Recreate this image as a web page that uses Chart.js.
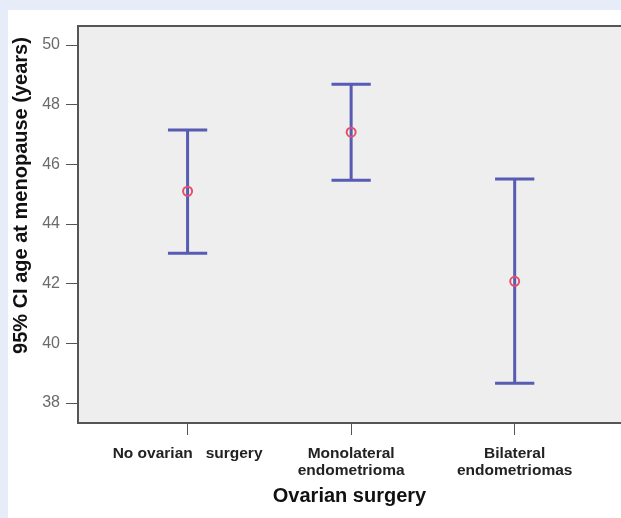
<!DOCTYPE html>
<html>
<head>
<meta charset="utf-8">
<script src="https://cdn.jsdelivr.net/npm/chart.js@4/dist/chart.umd.min.js"></script>
<style>
body { margin: 0; background: #e7edf8; overflow: hidden; }
#ciChart { position: absolute; left: 8px; top: 10px; background: #ffffff; }
</style>
</head>
<body>
<canvas id="ciChart" width="613" height="508"></canvas>
<script>
// groups on the x axis
var groups = [['No ovarian   surgery'], ['Monolateral', 'endometrioma'], ['Bilateral', 'endometriomas']];
var groupPos = [1, 2, 3];
// mean and 95% CI of age at menopause
var means = [45.1, 47.08, 42.08];
var lowerCI = [43.02, 45.47, 38.66];
var upperCI = [47.15, 48.69, 45.51];
var yTicks = [38, 40, 42, 44, 46, 48, 50];

var fontName = 'Liberation Sans, Arial, sans-serif';
var barColor = '#575bb2';
var capHalf = 0.12;

var datasets = [{
  type: 'scatter',
  label: 'mean',
  data: groupPos.map(function (x, i) { return { x: x, y: means[i] }; }),
  pointRadius: 4.5,
  pointBorderWidth: 2,
  borderColor: '#e2506c',
  backgroundColor: 'rgba(0,0,0,0)',
  order: 0
}];

for (var i = 0; i < groupPos.length; i++) {
  var x = groupPos[i];
  datasets.push({
    type: 'line',
    label: 'ci' + i,
    data: [
      { x: x - capHalf, y: upperCI[i] }, { x: x + capHalf, y: upperCI[i] },
      { x: x, y: null },
      { x: x, y: upperCI[i] }, { x: x, y: lowerCI[i] },
      { x: x, y: null },
      { x: x - capHalf, y: lowerCI[i] }, { x: x + capHalf, y: lowerCI[i] }
    ],
    borderColor: barColor,
    borderWidth: 3,
    pointRadius: 0,
    fill: false,
    spanGaps: false,
    order: 1
  });
}

// grey plot panel with a frame
var plotFrame = {
  id: 'plotFrame',
  beforeDraw: function (chart) {
    var a = chart.chartArea;
    var c = chart.ctx;
    c.save();
    c.fillStyle = '#eeeeee';
    c.fillRect(a.left, a.top, a.right - a.left + 4, a.bottom - a.top);
    c.strokeStyle = '#555555';
    c.lineWidth = 2;
    c.strokeRect(a.left, a.top, a.right - a.left + 4, a.bottom - a.top);
    c.restore();
  }
};

var ctx = document.getElementById('ciChart').getContext('2d');
var ciChart = new Chart(ctx, {
  type: 'scatter',
  data: { datasets: datasets },
  plugins: [plotFrame],
  options: {
    responsive: false,
    animation: false,
    layout: { autoPadding: false, padding: { top: 16, left: 0, right: 0, bottom: 0 } },
    plugins: {
      legend: { display: false },
      tooltip: { enabled: false }
    },
    scales: {
      x: {
        type: 'linear',
        min: 0.33,
        max: 3.65,
        afterBuildTicks: function (s) { s.ticks = groupPos.map(function (v) { return { value: v }; }); },
        afterFit: function (s) { s.height = 95; },
        border: { display: false },
        grid: { drawOnChartArea: false, tickLength: 12, color: '#555555' },
        ticks: {
          autoSkip: false,
          maxRotation: 0,
          padding: 10,
          color: '#222222',
          font: { family: fontName, size: 15.5, weight: 'bold', lineHeight: 1.1 },
          callback: function (v) { return groups[groupPos.indexOf(v)]; }
        },
        title: {
          display: true,
          text: 'Ovarian surgery',
          color: '#111111',
          font: { family: fontName, size: 20, weight: 'bold' },
          padding: { top: 0, bottom: 10 }
        }
      },
      y: {
        min: 37.33,
        max: 50.64,
        afterBuildTicks: function (s) { s.ticks = yTicks.map(function (v) { return { value: v }; }); },
        afterFit: function (s) { s.width = 70; },
        border: { display: false },
        grid: { drawOnChartArea: false, tickLength: 12, color: '#555555' },
        ticks: {
          padding: 6,
          color: '#6a6a6a',
          font: { family: fontName, size: 16 }
        },
        title: {
          display: true,
          text: '95% CI age at menopause (years)  ',
          align: 'end',
          color: '#111111',
          font: { family: fontName, size: 20, weight: 'bold' },
          padding: { top: 1, bottom: 0 }
        }
      }
    }
  }
});
</script>
</body>
</html>
